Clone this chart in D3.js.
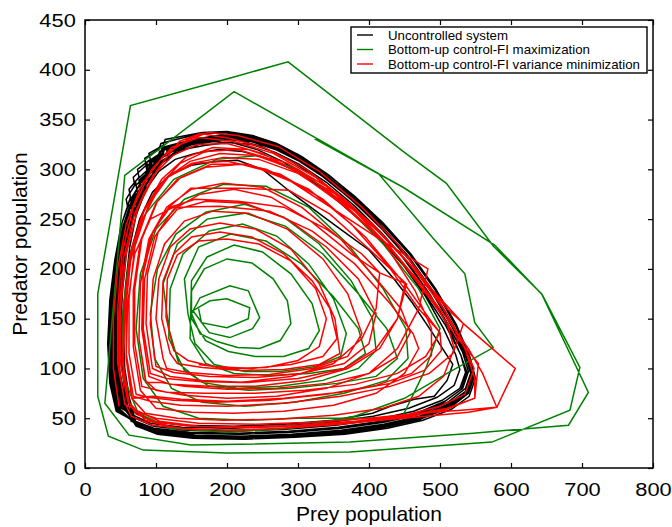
<!DOCTYPE html>
<html>
<head>
<meta charset="utf-8">
<script src="https://cdn.jsdelivr.net/npm/d3@7"></script>
<style>
  body { margin: 0; background: #fff; }
  svg { display: block; font-family: "Liberation Sans", Arial, Helvetica, sans-serif; }
</style>
</head>
<body>
<script>
// prey / predator pairs, one loop per line
var uncontrolled = [
  [45,58],[36,86],[33,126],[36,170],[43,210],[52,246],[64,272],[62,280],[76,292],[74,300],[92,310],[90,316],[110,324],[113,330],[135,333],[165,337],[200,338],[236,334],[270,326],[305,313],[344,294],[384,270],[423,243],[462,212],[496,177],[525,140],[543,108],[550,90],[541,72],[516,59],[476,48],[426,40],[366,34],[296,31],[226,29],[156,30],[104,34],[72,42],
  [52,64],[44,92],[42,132],[46,176],[53,217],[63,252],[72,262],[71,270],[82,283],[80,290],[95,300],[94,307],[110,315],[112,321],[130,324],[158,330],[193,335],[228,333],[262,326],[297,313],[336,294],[376,270],[415,243],[454,212],[489,177],[518,142],[538,112],[546,93],[537,76],[512,63],[472,51],[422,43],[362,37],[292,33],[222,31],[152,32],[102,36],[72,44],
  [48,60],[40,88],[37,128],[40,172],[47,212],[57,247],[71,277],[90,300],[114,316],[143,326],[178,331],[213,330],[248,323],[284,311],[324,293],[364,270],[405,244],[445,214],[481,179],[511,145],[532,116],[540,97],[532,80],[507,67],[467,55],[417,47],[357,41],[287,37],[217,35],[147,36],[97,40],[67,48],
  [44,57],[35,85],[32,125],[35,169],[42,209],[51,244],[60,262],[58,270],[70,284],[68,292],[86,304],[84,311],[104,320],[107,326],[128,330],[158,335],[194,337],[230,334],[265,327],[300,315],[340,296],[380,273],[420,246],[459,215],[494,180],[523,144],[542,112],[549,93],[540,75],[515,61],[475,50],[425,42],[365,36],[295,32],[225,30],[155,31],[103,35],[71,43],
  [55,66],[47,95],[45,135],[49,178],[56,218],[67,253],[75,262],[74,270],[85,283],[84,290],[100,302],[99,309],[116,316],[118,322],[135,325],[162,328],[197,332],[232,330],[266,322],[300,310],[339,292],[379,268],[418,241],[457,210],[491,175],[520,140],[539,110],[547,92],[539,75],[514,62],[474,50],[424,42],[364,36],[294,32],[224,30],[154,31],[104,35],[74,43],
  [47,59],[39,87],[36,127],[39,171],[46,211],[55,246],[63,258],[61,266],[73,280],[71,288],[89,300],[87,307],[106,316],[109,322],[130,326],[160,331],[195,335],[230,333],[264,326],[299,314],[338,295],[378,272],[418,245],[458,214],[493,179],[522,143],[541,112],[548,94],[540,77],[515,64],[475,52],[425,44],[365,38],[295,34],[225,32],[155,33],[103,37],[71,45],
  [46,58],[38,86],[35,126],[38,170],[45,210],[54,244],[68,274],[87,297],[110,313],[138,323],[172,328],[207,327],[242,320],[278,308],[318,290],[358,267],[400,241],[441,211],[477,177],[508,143],[529,114],[538,96],[530,79],[505,66],[465,54],[415,46],[355,40],[285,36],[215,34],[145,35],[95,39],[65,47],
  [58,70],[52,100],[52,140],[57,180],[65,218],[77,250],[95,277],[120,295],[150,304],[185,308],[215,309],[250,300],[297,273],[350,245],[400,219],[435,190],[461,166],[490,135],[518,104],[510,88],[492,72],[464,69],[430,62],[405,55],[350,48],[280,44],[210,42],[140,43],[95,47],[70,56],
  [50,62],[42,90],[40,130],[43,174],[50,214],[60,249],[68,260],[66,268],[78,281],[76,289],[93,300],[91,307],[109,316],[111,322],[130,325],[160,330],[194,334],[229,332],[263,325],[298,313],[337,294],[377,271],[416,244],[455,213],[490,178],[519,143],[538,113],[546,94],[538,77],[513,64],[473,52],[423,44],[363,38],[293,34],[223,32],[153,33],[102,37],[71,45],
  [60,70],[53,98],[50,138],[53,180],[59,220],[68,252],[76,262],[75,270],[86,282],[85,288],[100,298],[99,305],[116,312],[118,318],[138,320],[168,324],[200,327],[235,325],[268,317],[302,305],[340,287],[380,263],[418,236],[455,206],[487,173],[513,140],[530,112],[536,96],[528,80],[503,68],[463,57],[413,49],[353,43],[283,39],[213,37],[143,38],[97,42],[70,50],
  [54,66],[46,94],[44,134],[48,177],[55,217],[66,252],[73,262],[72,270],[84,282],[83,289],[98,300],[97,307],[114,314],[116,320],[134,323],[163,327],[197,331],[232,329],[266,321],[300,309],[339,291],[379,267],[418,240],[457,209],[491,174],[519,139],[537,110],[544,93],[536,77],[511,64],[471,52],[421,44],[361,38],[291,34],[221,32],[151,33],[101,37],[72,45],
  [53,65],[45,93],[43,133],[47,177],[54,216],[65,251],[70,258],[68,266],[80,279],[78,287],[92,298],[90,305],[108,314],[110,320],[128,323],[160,329],[195,333],[230,331],[264,324],[298,312],[337,293],[377,269],[416,242],[455,211],[489,176],[518,141],[537,111],[545,92],[537,75],[512,62],[472,50],[422,42],[362,36],[292,32],[222,30],[152,31],[102,35],[72,43],
  [57,68],[49,97],[47,137],[51,180],[58,220],[69,255],[86,284],[106,305],[132,318],[164,326],[199,330],[234,328],[268,320],[302,308],[341,290],[381,266],[420,239],[459,208],[492,173],[520,138],[538,109],[545,91],[537,74],[512,61],[472,49],[422,41],[362,35],[292,31],[222,29],[152,30],[102,34],[73,42],
  [62,72],[56,100],[54,140],[57,182],[63,222],[72,254],[86,280],[104,298],[127,310],[155,316],[188,320],[222,318],[256,311],[292,300],[330,283],[370,260],[410,234],[448,204],[480,172],[505,140],[522,114],[528,99],[520,83],[496,71],[456,60],[406,52],[346,46],[276,42],[206,40],[136,41],[92,45],[68,53],
  [49,61],[41,89],[38,129],[41,173],[48,213],[58,248],[66,258],[64,266],[74,276],[72,284],[88,296],[86,303],[103,312],[105,318],[122,322],[150,328],[186,333],[221,332],[256,325],[291,313],[331,295],[371,272],[411,246],[451,216],[486,181],[516,146],[536,116],[544,97],[536,80],[511,66],[471,54],[421,46],[361,40],[291,36],[221,34],[151,35],[100,39],[69,47],
  [51,63],[43,91],[41,131],[44,175],[51,215],[61,250],[69,259],[67,267],[79,280],[77,288],[94,299],[92,306],[110,315],[112,321],[131,324],[161,329],[196,333],[231,331],[265,324],[299,312],[338,293],[378,270],[417,243],[456,212],[490,177],[519,142],[538,112],[546,93],[538,76],[513,63],[473,51],[423,43],[363,37],[293,33],[223,31],[153,32],[102,36],[72,44],
  [56,67],[48,96],[46,136],[50,179],[57,219],[68,254],[84,283],[104,305],[130,319],[162,328],[197,332],[232,330],[266,322],[300,310],[339,292],[379,268],[418,241],[457,210],[491,175],[520,140],[539,110],[547,92],[539,75],[514,62],[474,50],[424,42],[364,36],[294,32],[224,30],[154,31],[104,35],[74,43],[54,64]
];

var fiMax = [
  [323,331],[448,282],[577,224],[644,174],[697,101],[683,58],[573,26],[373,16],[200,15],[82,18],[33,32],[18,72],[18,175],
  [64,364],[211,393],[286,408],[448,318],[509,286],[575,223],[643,175],[709,76],[681,43],[547,35],[373,26],[149,23],[62,33],[28,65],
  [56,294],[210,378],[413,296],[490,231],[535,195],[549,146],[575,121],[510,95],[450,70],[380,52],[290,40],[200,36],[120,40],[75,55],[55,90],[52,150],
  [62,210],[85,255],[125,290],[185,310],[245,314],[300,300],[360,268],[420,225],[470,180],[500,140],[480,100],[446,50],[370,50],[300,50],[230,48],[160,50],[110,62],[82,90],[72,140],
  [78,195],[100,240],[140,270],[195,285],[255,283],[315,262],[370,225],[420,180],[452,140],[455,110],[425,88],[365,75],[295,66],[225,62],[165,66],[122,80],[98,110],[92,155],
  [102,200],[128,235],[170,257],[225,265],[280,252],[330,225],[375,188],[405,150],[410,118],[385,100],[335,88],[275,82],[215,80],[165,86],[132,105],[118,140],
  [110,185],[130,225],[172,250],[225,256],[282,243],[335,215],[385,175],[425,140],[440,110],[410,92],[355,85],[290,80],[230,78],[175,82],[140,98],[118,130],
  [120,180],[138,215],[175,238],[222,245],[270,233],[315,205],[350,170],[368,135],[360,112],[325,102],[275,97],[225,97],[182,104],[155,125],[145,155],
  [140,190],[160,222],[205,235],[255,228],[305,205],[350,172],[385,140],[395,115],[365,100],[315,95],[260,93],[210,95],[170,105],[148,130],
  [150,188],[172,212],[210,224],[250,217],[290,195],[320,165],[330,138],[315,120],[280,112],[240,112],[202,117],[170,128],[150,150],
  [150,178],[168,200],[200,210],[235,206],[265,190],[285,168],[290,145],[275,128],[246,120],[215,121],[186,127],[162,135],[150,155],
  [162,171],[204,183],[230,178],[246,151],[236,140],[204,131],[175,136],[152,158],
  [176,168],[200,170],[232,161],[230,150],[200,141],[164,146],[160,160]
];

var fiVarMin = [
  [48,62],[40,100],[40,150],[46,200],[58,245],[80,285],[110,313],[145,330],[174,337],[215,334],[272,323],[330,298],[390,262],[440,225],[490,178],[525,135],[548,100],[535,74],[500,62],[450,53],[380,46],[300,41],[220,38],[150,39],[95,43],[65,52],
  [56,66],[46,105],[46,160],[52,215],[68,262],[94,300],[122,322],[160,332],[210,328],[265,316],[325,292],[385,255],[440,212],[488,168],[525,130],[554,105],[549,70],[505,58],[440,50],[360,44],[280,40],[200,38],[130,40],[85,48],
  [62,66],[53,104],[55,160],[63,213],[80,254],[108,290],[142,312],[180,322],[230,320],[285,306],[345,281],[405,245],[460,203],[505,160],[535,120],[549,90],[549,70],[510,60],[450,52],[380,47],[300,43],[220,41],[150,42],[100,46],[72,54],
  [60,68],[50,105],[50,160],[58,215],[75,262],[102,300],[133,328],[162,336],[205,331],[255,321],[312,300],[372,266],[430,226],[480,186],[533,145],[606,100],[580,61],[540,56],[480,52],[400,47],[320,43],[240,41],[160,42],[105,47],[75,57],
  [56,64],[48,102],[48,155],[54,210],[70,256],[96,294],[124,314],[158,325],[200,326],[250,316],[300,297],[360,266],[420,228],[470,188],[510,150],[540,120],[560,95],[580,61],[530,58],[470,55],[400,50],[320,46],[240,44],[160,45],[100,50],[70,57],
  [62,66],[54,104],[56,152],[63,205],[80,248],[106,284],[134,306],[170,318],[215,320],[262,310],[320,290],[380,258],[432,220],[478,180],[510,145],[520,120],[505,92],[470,72],[420,60],[350,53],[270,49],[195,48],[130,50],[85,55],
  [66,70],[58,110],[58,165],[66,220],[84,260],[112,290],[148,308],[190,316],[240,314],[295,300],[355,274],[415,236],[470,195],[510,160],[533,145],[518,115],[485,95],[430,82],[360,72],[280,65],[200,62],[135,63],[92,67],
  [68,72],[58,115],[58,170],[66,222],[85,262],[112,290],[150,306],[195,312],[245,310],[300,296],[360,268],[420,228],[465,178],[488,140],[488,113],[460,95],[410,83],[340,74],[260,68],[185,66],[125,68],[88,71],
  [72,74],[62,115],[62,170],[70,222],[90,265],[118,293],[155,306],[200,308],[255,300],[315,280],[375,245],[425,205],[470,160],[500,136],[502,118],[478,98],[430,85],[360,76],[280,70],[200,67],[135,69],[95,72],
  [66,70],[58,110],[60,165],[70,215],[92,250],[125,262],[190,263],[260,258],[320,238],[380,205],[430,165],[462,135],[470,120],[450,95],[410,75],[350,63],[280,57],[210,55],[150,56],[100,60],
  [78,78],[68,122],[68,178],[78,228],[100,266],[130,290],[170,302],[220,305],[275,295],[335,270],[395,232],[450,185],[485,150],[500,136],[480,112],[440,95],[380,84],[310,78],[240,75],[170,75],[115,76],
  [80,82],[70,125],[70,180],[80,230],[102,268],[135,292],[178,305],[230,305],[290,288],[350,260],[415,230],[483,200],[470,160],[440,120],[400,95],[340,80],[270,72],[200,70],[140,73],[100,78],
  [85,88],[76,130],[78,185],[90,230],[115,262],[150,280],[195,286],[250,282],[305,262],[360,230],[410,190],[445,160],[458,136],[440,112],[400,95],[340,85],[270,80],[200,79],[140,82],[105,86],
  [86,86],[76,130],[78,185],[92,232],[118,262],[149,281],[220,281],[287,279],[345,255],[400,220],[451,186],[440,150],[415,120],[370,100],[310,88],[240,82],[175,82],[120,84],
  [90,92],[80,140],[82,195],[96,238],[120,262],[155,270],[215,268],[280,262],[340,240],[390,215],[415,196],[410,160],[390,130],[350,105],[290,92],[220,86],[160,87],[115,90],
  [92,95],[82,140],[84,190],[98,232],[125,260],[162,275],[210,280],[262,272],[318,248],[375,215],[415,196],[453,185],[440,150],[410,120],[365,100],[300,90],[230,86],[165,88],[120,92],
  [95,100],[86,145],[88,195],[103,237],[130,260],[170,268],[225,266],[285,250],[340,222],[385,190],[410,155],[400,125],[365,105],[305,95],[240,91],[175,92],[125,96],
  [100,102],[92,145],[96,190],[112,225],[140,248],[180,258],[230,256],[285,240],[335,210],[370,175],[390,135],[370,112],[320,100],[260,94],[200,93],[145,96],[115,100],
  [110,110],[100,150],[104,190],[120,222],[148,240],[190,246],[240,240],[290,220],[330,185],[352,150],[359,115],[330,104],[280,99],[220,98],[165,101],[130,105],
  [120,115],[108,150],[110,188],[125,215],[150,232],[190,237],[235,232],[280,215],[320,188],[345,160],[355,130],[335,112],[290,104],[235,100],[180,102],[145,108],
  [125,118],[114,152],[116,190],[130,214],[160,228],[200,230],[245,225],[290,208],[325,180],[340,150],[330,122],[300,108],[255,101],[205,100],[160,104]
];

var xTicks = [0, 100, 200, 300, 400, 500, 600, 700, 800];
var yTicks = [0, 50, 100, 150, 200, 250, 300, 350, 400, 450];
var seriesNames = ["Uncontrolled system", "Bottom-up control-FI maximization", "Bottom-up control-FI variance minimization"];
var seriesColors = ["#000000", "#008000", "#ff0000"];

window.addEventListener("load", function() {
  var width = 672, height = 527;
  var left = 85, right = 653, top = 20, bottom = 468;

  var svg = d3.select("body").append("svg")
    .attr("width", width)
    .attr("height", height);

  var x = d3.scaleLinear().domain([0, 800]).range([left, right]);
  var y = d3.scaleLinear().domain([0, 450]).range([bottom, top]);

  var line = d3.line()
    .x(function(d) { return x(d[0]); })
    .y(function(d) { return y(d[1]); });

  var plot = svg.append("g");
  [uncontrolled, fiMax, fiVarMin].forEach(function(data, i) {
    plot.append("path")
      .datum(data)
      .attr("d", line)
      .attr("fill", "none")
      .attr("stroke", seriesColors[i])
      .attr("stroke-width", 1.5);
  });

  // axes, ticks pointing inward on all four sides
  var gx = svg.append("g")
    .attr("transform", "translate(0," + bottom + ")")
    .call(d3.axisBottom(x).tickValues(xTicks).tickSize(-5).tickSizeOuter(0).tickPadding(15));
  var gy = svg.append("g")
    .attr("transform", "translate(" + left + ",0)")
    .call(d3.axisLeft(y).tickValues(yTicks).tickSize(-5).tickSizeOuter(0).tickPadding(8));
  svg.append("g")
    .attr("transform", "translate(0," + top + ")")
    .call(d3.axisTop(x).tickValues(xTicks).tickSize(-5).tickSizeOuter(0).tickFormat(""));
  svg.append("g")
    .attr("transform", "translate(" + right + ",0)")
    .call(d3.axisRight(y).tickValues(yTicks).tickSize(-5).tickSizeOuter(0).tickFormat(""));

  svg.selectAll(".domain").remove();
  svg.selectAll(".tick line").attr("stroke", "#000").attr("stroke-width", 1.2);
  [gx, gy].forEach(function(g) {
    g.attr("font-family", null).attr("font-size", null);
    g.selectAll("text")
      .attr("fill", "#000")
      .style("font-size", "19px")
      .attr("transform", "scale(1.15,1)");
  });

  svg.append("rect")
    .attr("x", left).attr("y", top)
    .attr("width", right - left).attr("height", bottom - top)
    .attr("fill", "none")
    .attr("stroke", "#000")
    .attr("stroke-width", 1.5);

  svg.append("text")
    .attr("x", (left + right) / 2).attr("y", 521)
    .attr("text-anchor", "middle")
    .style("font-size", "21px")
    .text("Prey population");

  svg.append("text")
    .attr("transform", "translate(27," + (top + bottom) / 2 + ") rotate(-90)")
    .attr("text-anchor", "middle")
    .style("font-size", "21px")
    .text("Predator population");

  // legend
  var legend = svg.append("g").attr("transform", "translate(351,27)");
  legend.append("rect")
    .attr("width", 296).attr("height", 46)
    .attr("fill", "#fff")
    .attr("stroke", "#000")
    .attr("stroke-width", 1.4);
  var textWidths = [120, 202, 252];
  seriesNames.forEach(function(name, i) {
    var ry = 8 + i * 14.5;
    legend.append("line")
      .attr("x1", 6).attr("x2", 22)
      .attr("y1", ry).attr("y2", ry)
      .attr("stroke", seriesColors[i])
      .attr("stroke-width", 1.4);
    legend.append("text")
      .attr("x", 37).attr("y", ry + 4.5)
      .attr("textLength", textWidths[i])
      .attr("lengthAdjust", "spacingAndGlyphs")
      .style("font-size", "13px")
      .text(name);
  });
});
</script>
</body>
</html>
